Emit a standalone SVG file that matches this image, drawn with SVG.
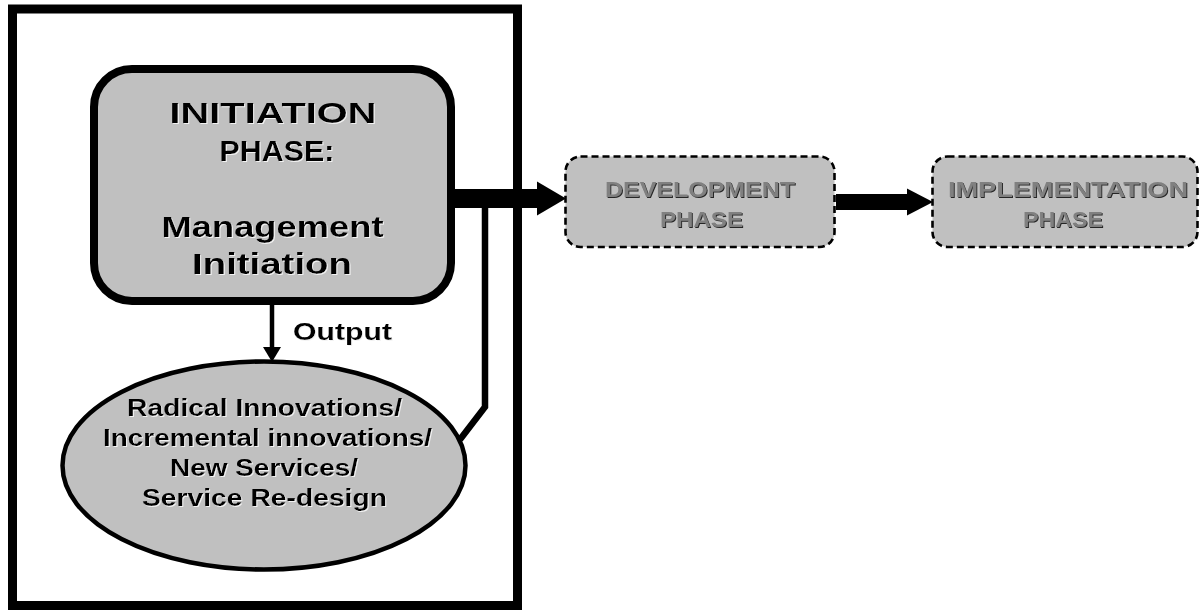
<svg xmlns="http://www.w3.org/2000/svg" width="1200" height="614" viewBox="0 0 1200 614">
  <defs>
    <!-- light emboss edge under dark lettering -->
    <filter id="lightEdge" x="-5%" y="-10%" width="110%" height="130%">
      <feOffset in="SourceAlpha" dx="1.4" dy="1.4" result="off"/>
      <feFlood flood-color="#f2f2f2"/>
      <feComposite in2="off" operator="in" result="edge"/>
      <feMerge><feMergeNode in="edge"/><feMergeNode in="SourceGraphic"/></feMerge>
    </filter>
    <!-- dark emboss edge under grey lettering -->
    <filter id="darkEdge" x="-5%" y="-10%" width="110%" height="130%">
      <feOffset in="SourceAlpha" dx="1.2" dy="1.2" result="off"/>
      <feFlood flood-color="#262626"/>
      <feComposite in2="off" operator="in" result="edge"/>
      <feMerge><feMergeNode in="edge"/><feMergeNode in="SourceGraphic"/></feMerge>
    </filter>
  </defs>
  <style>
    .frame { fill: #ffffff; stroke: #000; stroke-width: 9; }
    .phase { fill: #c0c0c0; stroke: #000; stroke-width: 8; }
    .result { fill: #c0c0c0; stroke: #000; stroke-width: 4.5; }
    .future { fill: #c0c0c0; stroke: #000; stroke-width: 2.6; stroke-dasharray: 7 4; }
    .t { font-family: "Liberation Sans", Arial, sans-serif; font-weight: bold; text-anchor: middle; }
    .dark { fill: #000; filter: url(#lightEdge); }
    .grey { fill: #808080; filter: url(#darkEdge); }
    .big { font-size: 30px; }
    .mid { font-size: 23.5px; }
    .small { font-size: 21.5px; }
    .bar { stroke: #000; fill: none; }
    .head { fill: #000; }
  </style>

  <rect width="1200" height="614" fill="#ffffff"/>

  <!-- initiation frame -->
  <g id="initiation-frame">
    <rect class="frame" x="12.5" y="9" width="505" height="596.5"/>
  </g>

  <!-- connectors -->
  <g id="connectors">
    <!-- output arrow -->
    <line class="bar" x1="272" y1="304" x2="272" y2="349" stroke-width="4.5"/>
    <polygon class="head" points="263,347 281,347 272,362"/>
    <!-- feedback from innovations back to the main flow -->
    <polyline class="bar" points="460,439.5 485,407 485,199" stroke-width="6.5" stroke-linejoin="miter"/>
    <!-- initiation to development -->
    <line class="bar" x1="452" y1="198.5" x2="539" y2="198.5" stroke-width="19"/>
    <polygon class="head" points="537,181.5 566,198.5 537,215.5"/>
    <!-- development to implementation -->
    <line class="bar" x1="836" y1="202" x2="909" y2="202" stroke-width="16"/>
    <polygon class="head" points="907,188.5 933,202 907,215.5"/>
  </g>

  <g id="node-initiation">
    <rect class="phase" x="94" y="69" width="357" height="232" rx="38" ry="38"/>
    <text class="t big dark" x="273" y="123" textLength="207" lengthAdjust="spacingAndGlyphs">INITIATION</text>
    <text class="t big dark" x="277" y="161" textLength="115" lengthAdjust="spacingAndGlyphs">PHASE:</text>
    <text class="t big dark" x="272.5" y="237" textLength="222" lengthAdjust="spacingAndGlyphs">Management</text>
    <text class="t big dark" x="272" y="274" textLength="160" lengthAdjust="spacingAndGlyphs">Initiation</text>
  </g>

  <g id="label-output">
    <text class="t mid dark" x="342.5" y="340" textLength="99" lengthAdjust="spacingAndGlyphs">Output</text>
  </g>

  <g id="node-innovations">
    <ellipse class="result" cx="264" cy="465.5" rx="201.5" ry="104"/>
    <text class="t mid dark" x="264.5" y="416" textLength="275" lengthAdjust="spacingAndGlyphs">Radical Innovations/</text>
    <text class="t mid dark" x="267.5" y="446" textLength="329" lengthAdjust="spacingAndGlyphs">Incremental innovations/</text>
    <text class="t mid dark" x="264" y="476" textLength="188" lengthAdjust="spacingAndGlyphs">New Services/</text>
    <text class="t mid dark" x="264.5" y="506" textLength="245" lengthAdjust="spacingAndGlyphs">Service Re-design</text>
  </g>

  <g id="node-development">
    <rect class="future" x="565.5" y="156.5" width="269" height="90.5" rx="15" ry="15"/>
    <text class="t small grey" x="700" y="197" textLength="190" lengthAdjust="spacingAndGlyphs">DEVELOPMENT</text>
    <text class="t small grey" x="701.5" y="227" textLength="83" lengthAdjust="spacingAndGlyphs">PHASE</text>
  </g>

  <g id="node-implementation">
    <rect class="future" x="932.5" y="156.5" width="265" height="90.5" rx="15" ry="15"/>
    <text class="t small grey" x="1068" y="197" textLength="240" lengthAdjust="spacingAndGlyphs">IMPLEMENTATION</text>
    <text class="t small grey" x="1063" y="227" textLength="80" lengthAdjust="spacingAndGlyphs">PHASE</text>
  </g>
</svg>
